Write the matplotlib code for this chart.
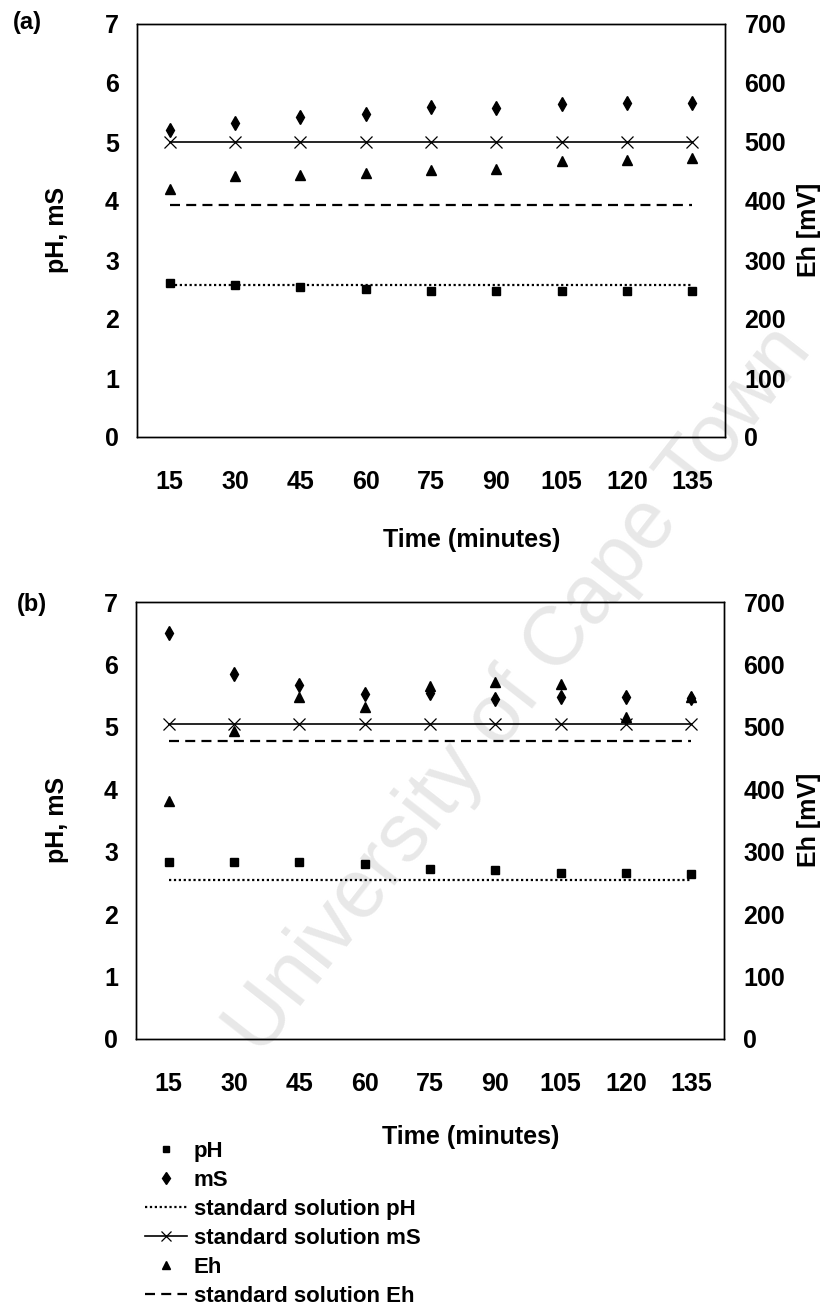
import matplotlib
matplotlib.use('Agg')
import matplotlib.pyplot as plt

plt.rcParams['font.family'] = ['Liberation Sans', 'DejaVu Sans']
plt.rcParams['font.weight'] = 'bold'

times = ['15', '30', '45', '60', '75', '90', '105', '120', '135']

# panel (a)
ph_a = [2.61, 2.58, 2.54, 2.51, 2.47, 2.47, 2.47, 2.47, 2.47]
ms_a = [5.21, 5.33, 5.43, 5.48, 5.59, 5.57, 5.65, 5.66, 5.66]
eh_a = [421, 442, 444, 448, 452, 454, 467, 469, 473]
std_ph_a = 2.58
std_ms_a = 5.0
std_eh_a = 394

# panel (b)
ph_b = [2.83, 2.83, 2.83, 2.81, 2.73, 2.70, 2.66, 2.66, 2.64]
ms_b = [6.50, 5.84, 5.67, 5.52, 5.54, 5.45, 5.48, 5.48, 5.47]
eh_b = [382, 493, 548, 532, 565, 572, 569, 516, 548]
std_ph_b = 2.55
std_ms_b = 5.04
std_eh_b = 478

left_ticks = [0, 1, 2, 3, 4, 5, 6, 7]
right_ticks = [0, 100, 200, 300, 400, 500, 600, 700]

W, H = 832, 1307
fig = plt.figure(figsize=(W / 100, H / 100), dpi=100)

TICK_FS = 18
LAB_FS = 18


def px_rect(l, r, t, b):
    return [l / W, 1 - b / H, (r - l) / W, (b - t) / H]


def panel(rect, ph, ms, eh, sph, sms, seh, tag, tagpos, xlab_y, ycenter):
    ax = fig.add_axes(rect)
    ax.patch.set_alpha(0)
    n = len(times)
    x = list(range(n))
    h = []
    h += ax.plot(x, ph, ls='none', marker='s', ms=6, color='k', label='pH', zorder=5)
    h += ax.plot(x, ms, ls='none', marker='d', ms=7.5, color='k', label='mS', zorder=5)
    h += ax.plot(x, [sph] * n, ls=(0, (1, 1.2)), lw=1.6, color='k', label='standard solution pH')
    h += ax.plot(x, [sms] * n, ls='-', lw=1.2, color='k', marker='x', ms=9, mew=0.9,
                 label='standard solution mS')
    ax.set_xlim(-0.5, n - 0.5)
    ax.set_ylim(0, 7)
    ax.set_yticks(left_ticks)
    ax.set_xticks(x)
    ax.set_xticklabels(times)
    ax.tick_params(axis='both', length=0, labelsize=TICK_FS)
    ax.tick_params(axis='y', pad=13)
    ax.tick_params(axis='x', pad=24)
    ax.set_xlabel('Time (minutes)', fontsize=LAB_FS, fontweight='bold', va='center')
    ax.xaxis.set_label_coords(0.57, xlab_y)

    ax2 = ax.twinx()
    ax2.patch.set_alpha(0)
    h_eh = ax2.plot(x, eh, ls='none', marker='^', ms=7.5, color='k', label='Eh', zorder=5)
    h_seh = ax2.plot(x, [seh] * n, ls=(0, (4.5, 2.8)), lw=1.6, color='k', label='standard solution Eh')
    ax2.set_ylim(0, 700)
    ax2.set_yticks(right_ticks)
    ax2.tick_params(axis='y', length=0, labelsize=TICK_FS, pad=14)
    for a in (ax, ax2):
        for s in a.spines.values():
            s.set_linewidth(1.0)
    fig.text(57 / W, 1 - ycenter / H, 'pH, mS', fontsize=LAB_FS, fontweight='bold',
             rotation=90, ha='center', va='center')
    fig.text(809 / W, 1 - ycenter / H, 'Eh [mV]', fontsize=LAB_FS, fontweight='bold',
             rotation=90, ha='center', va='center')
    fig.text(tagpos[0] / W, 1 - tagpos[1] / H, tag, fontsize=17, fontweight='bold',
             ha='center', va='center')
    return h + h_eh + h_seh


panel(px_rect(137, 725, 24, 437), ph_a, ms_a, eh_a, std_ph_a, std_ms_a, std_eh_a,
      '(a)', (27, 22), -0.25, 230)
handles = panel(px_rect(136, 724, 602, 1039), ph_b, ms_b, eh_b, std_ph_b, std_ms_b, std_eh_b,
                '(b)', (32, 604), -0.225, 820)

# legend order: pH, mS, std pH, std mS, Eh, std Eh
leg = fig.legend(handles=handles, loc='upper left',
                 bbox_to_anchor=(145 / W, 1 - 1141 / H),
                 frameon=False, handlelength=1.9, handletextpad=0.3,
                 labelspacing=0.36, borderaxespad=0, borderpad=0, markerscale=0.8,
                 prop={'weight': 'bold', 'size': 16})

# watermark
fig.text(520 / W, 1 - 690 / H, 'University of Cape Town', fontsize=60,
         family=['Liberation Sans', 'DejaVu Sans'], fontweight='normal',
         color='#e8e8e8', rotation=52, ha='center', va='center',
         rotation_mode='anchor', zorder=-5)

fig.savefig('out.png', dpi=100, facecolor='white')
